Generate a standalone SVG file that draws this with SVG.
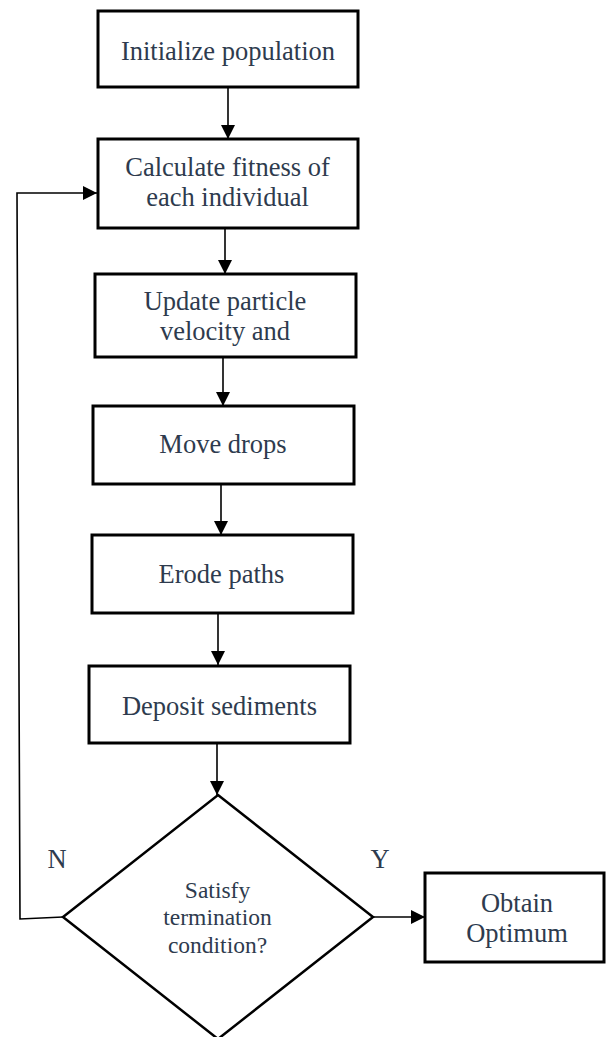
<svg xmlns="http://www.w3.org/2000/svg" width="606" height="1037" viewBox="0 0 606 1037">
<style>
.box{fill:#fff;stroke:#000;stroke-width:3}
.dia{fill:#fff;stroke:#000;stroke-width:2.5}
.t{font-family:"Liberation Serif","Times New Roman",serif;font-size:26.5px;fill:#2e3b4e;text-anchor:middle}
.td{font-family:"Liberation Serif","Times New Roman",serif;font-size:23.5px;fill:#2e3b4e;text-anchor:middle}
.c{fill:none;stroke:#000;stroke-width:1.6}
</style>
<defs>
<marker id="ah" markerUnits="userSpaceOnUse" markerWidth="14" markerHeight="14" refX="14" refY="7" orient="auto">
<path d="M0,0 L14,7 L0,14 z" fill="#000"/>
</marker>
</defs>
<rect width="606" height="1037" fill="#fff"/>
<g id="connectors">
<line class="c" x1="228" y1="87" x2="228" y2="139" marker-end="url(#ah)"/>
<line class="c" x1="225" y1="228" x2="225" y2="274" marker-end="url(#ah)"/>
<line class="c" x1="223" y1="357" x2="223" y2="406" marker-end="url(#ah)"/>
<line class="c" x1="221" y1="484" x2="221" y2="535" marker-end="url(#ah)"/>
<line class="c" x1="218" y1="613" x2="218" y2="665" marker-end="url(#ah)"/>
<line class="c" x1="217" y1="743" x2="217" y2="795" marker-end="url(#ah)"/>
<line class="c" x1="373" y1="917" x2="425" y2="917" marker-end="url(#ah)"/>
<polyline class="c" points="63,917 20,919 17,193 97,193" marker-end="url(#ah)"/>
<text class="t" x="57" y="868">N</text>
<text class="t" x="380" y="868">Y</text>
</g>
<g id="n1">
<rect class="box" x="98" y="11" width="260" height="76"/>
<text class="t" x="228" y="60">Initialize population</text>
</g>
<g id="n2">
<rect class="box" x="98" y="139" width="260" height="89"/>
<text class="t" x="227.5" y="176">Calculate fitness of</text>
<text class="t" x="227.5" y="206">each individual</text>
</g>
<g id="n3">
<rect class="box" x="95" y="274" width="261" height="83"/>
<text class="t" x="225" y="310">Update particle</text>
<text class="t" x="225" y="340">velocity and</text>
</g>
<g id="n4">
<rect class="box" x="93" y="406" width="261" height="78"/>
<text class="t" x="223" y="453">Move drops</text>
</g>
<g id="n5">
<rect class="box" x="92" y="535" width="261" height="78"/>
<text class="t" x="221.5" y="583">Erode paths</text>
</g>
<g id="n6">
<rect class="box" x="89" y="666" width="261" height="77"/>
<text class="t" x="219.5" y="715">Deposit sediments</text>
</g>
<g id="n7">
<polygon class="dia" points="218,795 373,917 218,1039 63,917"/>
<text class="td" x="217.5" y="898">Satisfy</text>
<text class="td" x="217.5" y="925">termination</text>
<text class="td" x="217.5" y="953">condition?</text>
</g>
<g id="n8">
<rect class="box" x="425" y="873" width="179" height="89"/>
<text class="t" x="517" y="912">Obtain</text>
<text class="t" x="517" y="942">Optimum</text>
</g>
</svg>
